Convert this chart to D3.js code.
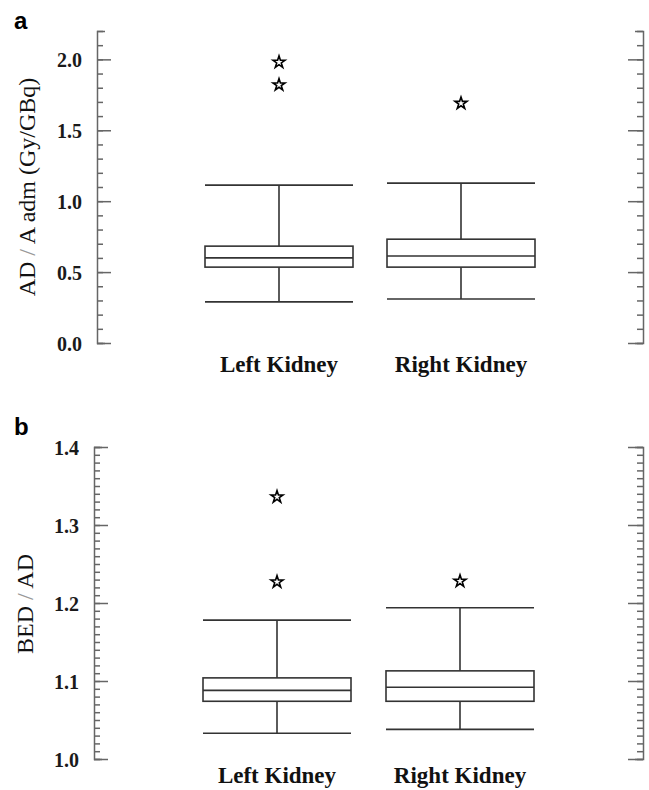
<!DOCTYPE html>
<html>
<head>
<meta charset="utf-8">
<script src="https://cdnjs.cloudflare.com/ajax/libs/d3/7.8.5/d3.min.js"></script>
<style>
  body { margin: 0; background: #fff; }
  .tick text { font-family: "Liberation Serif", "Times New Roman", serif; }
</style>
</head>
<body>
<div id="chart"></div>
<script>
// kidneys on the x axis
var kidneys = ["Left Kidney", "Right Kidney"];

// panel a: AD / A adm (Gy/GBq) -> [low whisker, q1, median, q3, high whisker]
var adStats = [
  [0.29, 0.535, 0.60, 0.683, 1.113],
  [0.31, 0.535, 0.613, 0.732, 1.127]
];
var adOutliers = [[1.98, 1.82], [1.69]];
var adMajor = [0, 0.5, 1.0, 1.5, 2.0];

// panel b: BED / AD
var bedStats = [
  [1.033, 1.074, 1.088, 1.104, 1.178],
  [1.038, 1.074, 1.092, 1.113, 1.194]
];
var bedOutliers = [[1.336, 1.227], [1.228]];
var bedMajor = [1.0, 1.1, 1.2, 1.3, 1.4];

var W = 649, H = 790;
var svg = d3.select("#chart").append("svg")
    .attr("width", W).attr("height", H);

var lineCol = "#333", axisCol = "#666";
var serif = "'Liberation Serif', 'Times New Roman', serif";

function panel(opt) {
  var y = d3.scaleLinear().domain(opt.domain).range([opt.bottom, opt.top]);
  var x = d3.scalePoint().domain(kidneys).range([opt.left, opt.right]).padding(1);
  var g = svg.append("g");

  // minor ticks, left and right
  var minor = d3.range(Math.round((opt.domain[1] - opt.domain[0]) / opt.minorStep) + 1)
      .map(function(i){ return opt.domain[0] + i * opt.minorStep; });

  g.append("g").attr("transform", "translate(" + opt.left + ",0)")
      .call(d3.axisLeft(y).tickValues(minor).tickSizeInner(-6).tickSizeOuter(-8).tickFormat(""));
  g.append("g").attr("transform", "translate(" + opt.right + ",0)")
      .call(d3.axisRight(y).tickValues(minor).tickSizeInner(-6).tickSizeOuter(-8).tickFormat(""));

  // major ticks with labels
  var la = g.append("g").attr("transform", "translate(" + opt.left + ",0)")
      .call(d3.axisLeft(y).tickValues(opt.major).tickSizeInner(-14).tickSizeOuter(0)
        .tickPadding(15).tickFormat(d3.format(".1f")));
  la.select(".domain").remove();
  la.selectAll("text").attr("font-size", 20).attr("font-weight", "bold")
      .attr("fill", "#1a1a1a").attr("dy", "0.36em");
  var ra = g.append("g").attr("transform", "translate(" + opt.right + ",0)")
      .call(d3.axisRight(y).tickValues(opt.major).tickSizeInner(-15).tickSizeOuter(0).tickFormat(""));
  ra.select(".domain").remove();

  g.selectAll(".domain, .tick line").attr("stroke", axisCol).attr("stroke-width", 1.5);

  // boxes
  var bw = 148;
  var box = g.selectAll(".box").data(opt.stats).enter().append("g").attr("class", "box")
      .attr("transform", function(d, i){ return "translate(" + x(kidneys[i]) + ",0)"; });

  box.append("line").attr("x1", 0).attr("x2", 0)
      .attr("y1", function(d){ return y(d[0]); }).attr("y2", function(d){ return y(d[1]); });
  box.append("line").attr("x1", 0).attr("x2", 0)
      .attr("y1", function(d){ return y(d[3]); }).attr("y2", function(d){ return y(d[4]); });
  box.append("line").attr("x1", -bw/2).attr("x2", bw/2)
      .attr("y1", function(d){ return y(d[0]); }).attr("y2", function(d){ return y(d[0]); });
  box.append("line").attr("x1", -bw/2).attr("x2", bw/2)
      .attr("y1", function(d){ return y(d[4]); }).attr("y2", function(d){ return y(d[4]); });
  box.append("rect").attr("x", -bw/2).attr("width", bw)
      .attr("y", function(d){ return y(d[3]); })
      .attr("height", function(d){ return y(d[1]) - y(d[3]); })
      .attr("fill", "none");
  box.append("line").attr("x1", -bw/2).attr("x2", bw/2)
      .attr("y1", function(d){ return y(d[2]); }).attr("y2", function(d){ return y(d[2]); });
  box.selectAll("line, rect").attr("stroke", lineCol).attr("stroke-width", 1.6);

  // outliers as open stars
  var star = d3.symbol().type(d3.symbolStar).size(45);
  opt.outliers.forEach(function(arr, i){
    g.selectAll(null).data(arr).enter().append("path")
      .attr("d", star)
      .attr("transform", function(v){ return "translate(" + x(kidneys[i]) + "," + y(v) + ")"; })
      .attr("fill", "#fff").attr("stroke", "#000").attr("stroke-width", 1.6);
  });

  // category labels
  g.selectAll(".cat").data(kidneys).enter().append("text")
      .attr("x", function(d){ return x(d); }).attr("y", opt.catY)
      .attr("text-anchor", "middle")
      .attr("font-family", serif)
      .attr("font-weight", "bold").attr("font-size", 23).attr("fill", "#111")
      .text(function(d){ return d; });

  // y label
  var yl = g.append("text")
      .attr("transform", "translate(" + opt.labelX + "," + opt.labelY + ") rotate(-90)")
      .attr("text-anchor", "middle")
      .attr("font-family", serif)
      .attr("font-size", 24).attr("fill", "#111");
  opt.label.forEach(function(p){
    yl.append("tspan").attr("fill", p[1]).text(p[0]);
  });

  // panel letter
  g.append("text").attr("x", 14).attr("y", opt.letterY)
      .attr("font-family", "'Liberation Sans', Arial, sans-serif")
      .attr("font-weight", "bold").attr("font-size", 24).attr("fill", "#000")
      .text(opt.letter);
}

panel({
  domain: [0, 2.2], top: 31, bottom: 343, left: 97, right: 643,
  major: adMajor, minorStep: 0.1, stats: adStats, outliers: adOutliers,
  catY: 372, labelX: 35, labelY: 187, letter: "a", letterY: 29,
  label: [["AD ", "#111"], ["/", "#999"], [" A adm (Gy/GBq)", "#111"]]
});

panel({
  domain: [1.0, 1.4], top: 447, bottom: 759, left: 94, right: 643,
  major: bedMajor, minorStep: 0.01, stats: bedStats, outliers: bedOutliers,
  catY: 783, labelX: 33, labelY: 604, letter: "b", letterY: 435,
  label: [["BED ", "#111"], ["/", "#999"], [" AD", "#111"]]
});
</script>
</body>
</html>
